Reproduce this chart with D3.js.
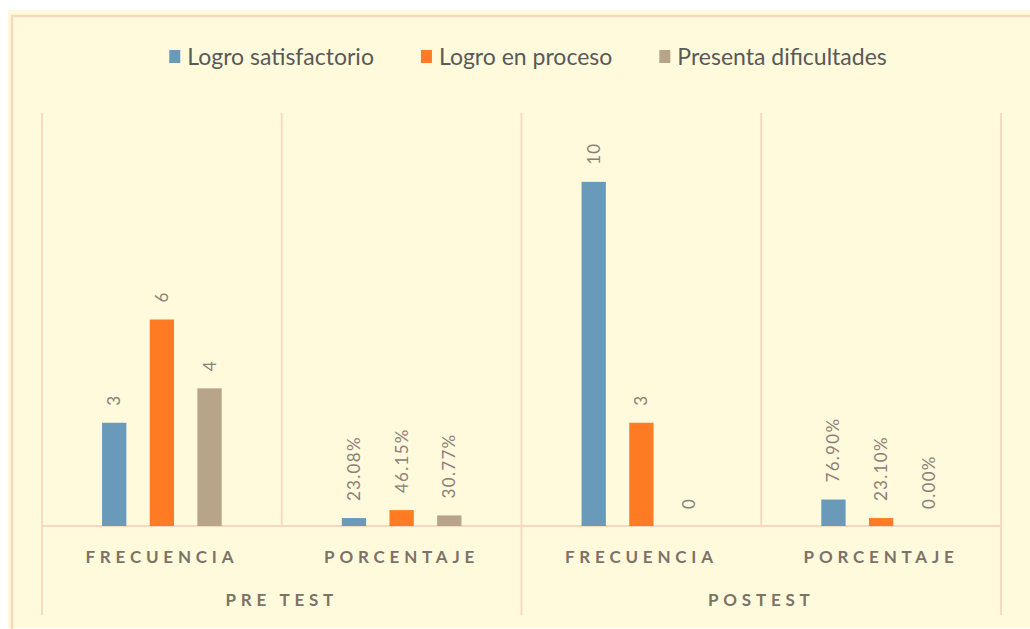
<!DOCTYPE html>
<html>
<head>
<meta charset="utf-8">
<script src="https://cdn.jsdelivr.net/npm/d3@7"></script>
<style>
  body { margin: 0; background: #fff; }
  svg { display: block; }
  text { font-family: Lato, "Open Sans", sans-serif; }
</style>
</head>
<body>
<svg id="chart" width="1030" height="629"></svg>
<script>
// data
var series = ["Logro satisfactorio", "Logro en proceso", "Presenta dificultades"]
var colors = ["#6a9aba", "#fe7b24", "#b8a488"]
var groups = ["PRE TEST", "POSTEST"]
var subcats = ["FRECUENCIA", "PORCENTAJE"]
var preFrecuencia = [3, 6, 4]
var prePorcentaje = [0.2308, 0.4615, 0.3077]
var postFrecuencia = [10, 3, 0]
var postPorcentaje = [0.769, 0.231, 0]

var cats = [
  {g: groups[0], c: subcats[0], vals: preFrecuencia, pct: false},
  {g: groups[0], c: subcats[1], vals: prePorcentaje, pct: true},
  {g: groups[1], c: subcats[0], vals: postFrecuencia, pct: false},
  {g: groups[1], c: subcats[1], vals: postPorcentaje, pct: true}
]
cats.forEach(function(d, i){ d.key = i })

var svg = d3.select("#chart")
var line = "#f5d8bd"

// background panel + frame
svg.append("rect").attr("x", 8).attr("y", 10).attr("width", 1022).attr("height", 618).attr("fill", "#fffadc")
svg.append("rect").attr("x", 12).attr("y", 16).attr("width", 1040).attr("height", 640)
  .attr("fill", "none").attr("stroke", line).attr("stroke-width", 2.5)

var left = 42, right = 1001, plotTop = 113, base = 526

var x0 = d3.scaleBand().domain(cats.map(d => d.key)).range([left, right]).padding(0)
var x1 = d3.scaleBand().domain(series).range([0, x0.bandwidth()]).paddingInner(0.49).paddingOuter(1.26)
var y = d3.scaleLinear().domain([0, 12]).range([base, plotTop])

// category separators
var g = svg.append("g")
cats.forEach(function(d, i){
  var xx = x0(d.key)
  var long = (i % 2 == 0)
  g.append("line").attr("x1", xx).attr("x2", xx).attr("y1", plotTop).attr("y2", long ? 615 : base)
    .attr("stroke", line).attr("stroke-width", 1.8)
})
g.append("line").attr("x1", right).attr("x2", right).attr("y1", plotTop).attr("y2", 615)
  .attr("stroke", line).attr("stroke-width", 1.8)
g.append("line").attr("x1", left).attr("x2", right).attr("y1", base).attr("y2", base)
  .attr("stroke", line).attr("stroke-width", 1.8)

// bars
var fmtPct = d3.format(".2%")
var cg = svg.selectAll(".cat").data(cats).enter().append("g")
  .attr("transform", d => "translate(" + x0(d.key) + ",0)")

cg.selectAll("rect").data(d => d.vals.map((v, i) => ({v: v, s: series[i], i: i, pct: d.pct})))
  .enter().append("rect")
  .attr("x", d => x1(d.s))
  .attr("y", d => y(d.v))
  .attr("width", x1.bandwidth())
  .attr("height", d => base - y(d.v))
  .attr("fill", d => colors[d.i])

cg.selectAll(".lbl").data(d => d.vals.map((v, i) => ({v: v, s: series[i], i: i, pct: d.pct})))
  .enter().append("text")
  .attr("transform", d => "translate(" + (x1(d.s) + x1.bandwidth() / 2 + 6) + "," + (y(d.v) - 17) + ") rotate(-90)")
  .attr("font-size", 17)
  .attr("letter-spacing", 1.3)
  .attr("fill", "#8a8078")
  .text(d => d.pct ? fmtPct(d.v) : d.v)

// category labels
cg.append("text")
  .attr("x", x0.bandwidth() / 2).attr("y", 563)
  .attr("text-anchor", "middle")
  .attr("font-size", 17).attr("font-weight", "bold")
  .attr("letter-spacing", 4.8)
  .attr("fill", "#7d7268")
  .text(d => d.c)

groups.forEach(function(name, i){
  svg.append("text")
    .attr("x", x0(i * 2) + x0.bandwidth()).attr("y", 606)
    .attr("text-anchor", "middle")
    .attr("font-size", 17).attr("font-weight", "bold")
    .attr("letter-spacing", 4.8)
    .attr("fill", "#7d7268")
    .text(name)
})

// legend
var lg = svg.append("g")
var lx = 0
series.forEach(function(s, i){
  var it = lg.append("g").attr("transform", "translate(" + lx + ",0)")
  it.append("rect").attr("x", 0).attr("y", -7).attr("width", 11).attr("height", 13).attr("fill", colors[i])
  var t = it.append("text").attr("x", 18).attr("y", 8).attr("font-size", 23).attr("fill", "#595959").text(s)
  lx += 18 + t.node().getComputedTextLength() + 47
})
lx -= 47
lg.attr("transform", "translate(" + (528 - lx / 2) + ",57)")
</script>
</body>
</html>
